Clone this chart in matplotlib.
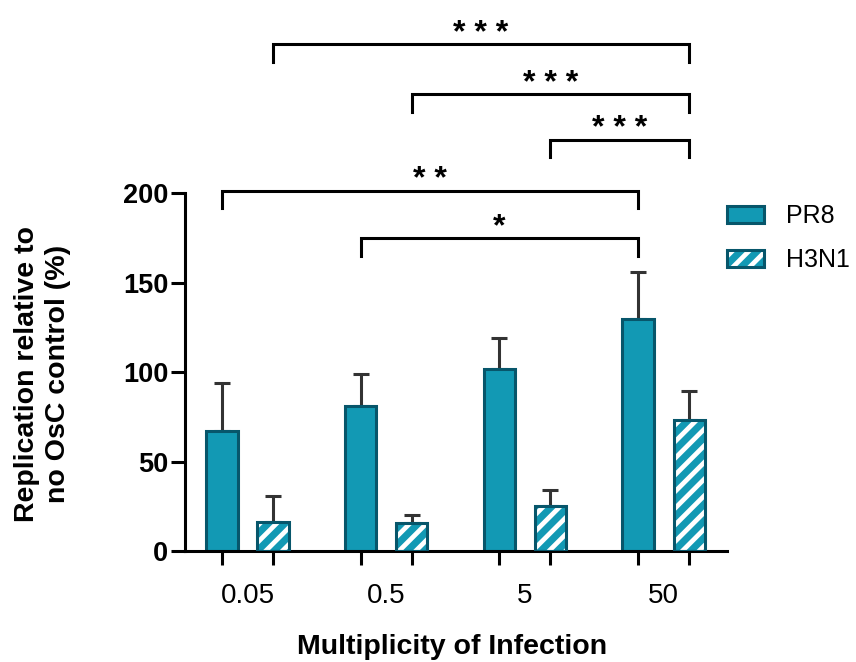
import numpy as np
import matplotlib
matplotlib.use("Agg")
import matplotlib.pyplot as plt
from matplotlib.patches import Patch
from matplotlib.legend_handler import HandlerTuple

# data (mean + upper SD)
moi_labels = ["0.05", "0.5", "5", "50"]
pr8_mean = [67.2, 81.0, 101.6, 129.5]
pr8_sd = [26.5, 18.1, 17.3, 26.3]
h3n1_mean = [16.0, 15.8, 25.3, 73.2]
h3n1_sd = [14.7, 4.5, 8.8, 16.4]

# significance comparisons: series, group a, group b, stars
comparisons = [
    ("H3N1", 0, 3, "***"),
    ("H3N1", 1, 3, "***"),
    ("H3N1", 2, 3, "***"),
    ("PR8", 0, 3, "**"),
    ("PR8", 1, 3, "*"),
]

plt.rcParams['font.family'] = ['Liberation Sans', 'DejaVu Sans']
plt.rcParams['hatch.linewidth'] = 3.4

teal = '#1299b4'
dark = '#07566b'
errc = '#333333'
lw = 2.2

fig = plt.figure(figsize=(8.56, 6.62), dpi=100)
ax = fig.add_axes([185/856, 1 - 551/662, 542/856, 357.7/662])

x = np.arange(len(moi_labels))
off = 0.184
w = 0.225
x_pr8 = x - off
x_h3 = x + off

# error bars (upper only), behind bars
ax.errorbar(x_pr8, pr8_mean, yerr=[np.zeros(4), pr8_sd], fmt='none', ecolor=errc,
            elinewidth=lw, capsize=6, capthick=lw, zorder=1)
ax.errorbar(x_h3, h3n1_mean, yerr=[np.zeros(4), h3n1_sd], fmt='none', ecolor=errc,
            elinewidth=lw, capsize=6, capthick=lw, zorder=1)

ax.bar(x_pr8, pr8_mean, w, color=teal, edgecolor=dark, linewidth=lw, zorder=2)
# hatched bars: white stripes on teal, then dark outline on top
ax.bar(x_h3, h3n1_mean, w, color=teal, edgecolor='white', linewidth=0, hatch='//', zorder=2)
ax.bar(x_h3, h3n1_mean, w, fill=False, edgecolor=dark, linewidth=lw, zorder=3)

ax.set_xlim(-0.451, 3.457)
ax.set_ylim(0, 200)

for s in ['top', 'right']:
    ax.spines[s].set_visible(False)
for s in ['left', 'bottom']:
    ax.spines[s].set_linewidth(lw)

ax.set_yticks([0, 50, 100, 150, 200])
ax.set_yticklabels(['0', '50', '100', '150', '200'], fontweight='bold', fontsize=19.5)
ax.tick_params(axis='y', length=10, width=lw, pad=2)

ax.set_xticks(np.concatenate([x_pr8, x_h3]))
ax.set_xticklabels([])
ax.set_xticks(x, minor=True)
ax.set_xticklabels(moi_labels, minor=True, fontsize=20)
ax.tick_params(axis='x', which='major', length=10, width=lw)
ax.tick_params(axis='x', which='minor', length=0, pad=23)

# significance brackets
pos = {"PR8": x_pr8, "H3N1": x_h3}
levels = [283.3, 255.3, 229.8, 201.3, 174.8]
leg = 9.7
for (series, a, b, stars), lvl in zip(comparisons, levels):
    xa = pos[series][a]
    xb = pos[series][b]
    ax.plot([xa, xa, xb, xb], [lvl - leg, lvl, lvl, lvl - leg], color='black',
            linewidth=lw, clip_on=False, solid_joinstyle='miter')
    ax.annotate(' '.join(stars), xy=((xa + xb) / 2, lvl), xytext=(0, 2),
                textcoords='offset points', ha='center', va='baseline',
                fontsize=23, fontweight='bold', annotation_clip=False)

fig.text(452/856, 1 - 647/662, 'Multiplicity of Infection', ha='center', va='center',
         fontsize=20.5, fontweight='bold')
fig.text(43/856, 1 - 374/662, 'Replication relative to\nno OsC control (%)', ha='center',
         va='center', rotation=90, multialignment='center', fontsize=20.5, fontweight='bold',
         linespacing=1.25)

h_pr8 = Patch(facecolor=teal, edgecolor=dark, linewidth=lw)
h_h3 = (Patch(facecolor=teal, edgecolor='white', hatch='//', linewidth=0),
        Patch(fill=False, edgecolor=dark, linewidth=lw))
fig.legend([h_pr8, h_h3], ['PR8', 'H3N1'], loc='upper left',
           bbox_to_anchor=(727/856, 1 - 204/662), frameon=False, fontsize=18,
           borderpad=0, borderaxespad=0, handlelength=1.48, handleheight=0.68,
           handletextpad=0.9, labelspacing=0.8,
           handler_map={tuple: HandlerTuple(ndivide=1, pad=0)})

fig.savefig('out.png', dpi=100)
